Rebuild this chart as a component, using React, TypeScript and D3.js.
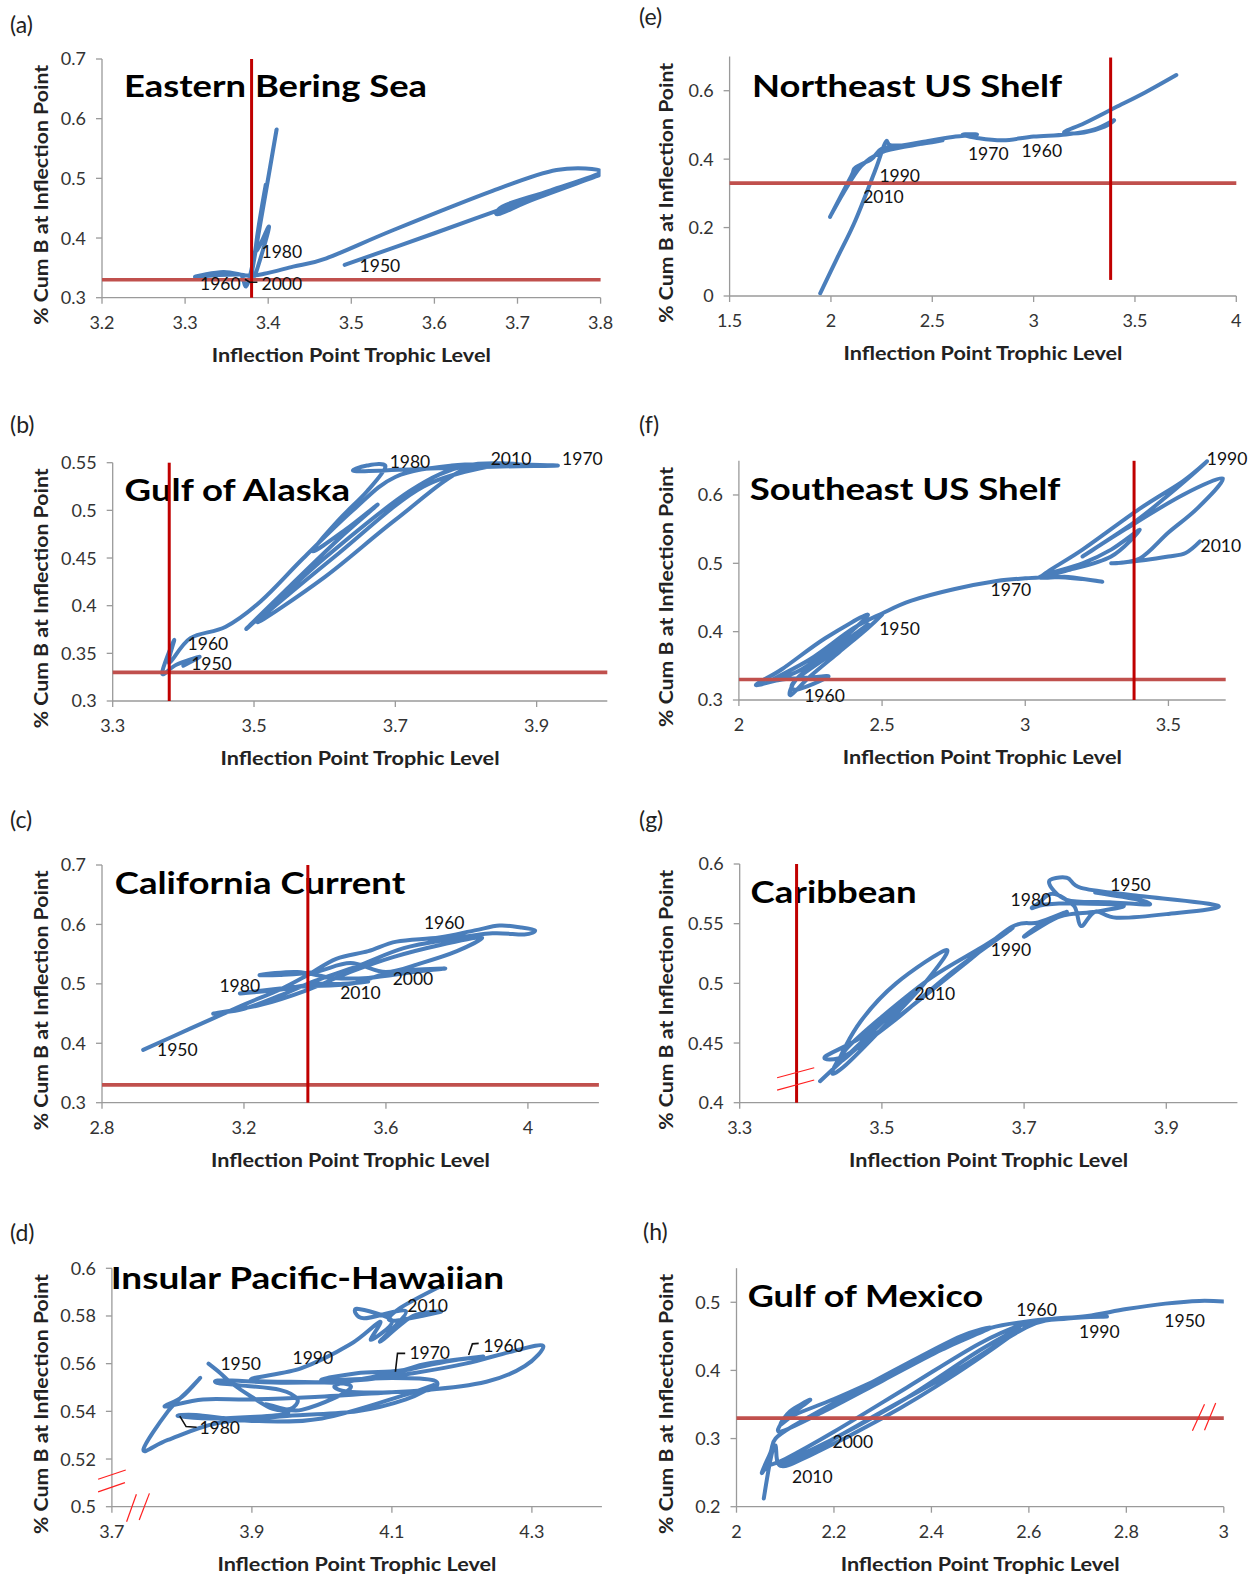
import * as d3 from "d3"

type Pt = [number, number]
type YearLabel = { text: string; x: number; y: number }

// reference levels drawn on every panel (trophic level / cum biomass)
const refTL = 3.38
const refB = 0.33

// (a) Eastern Bering Sea
const ebsPath: Pt[] = [
  [3.492, 0.355], [3.6, 0.408], [3.72, 0.468], [3.8, 0.506], [3.72, 0.465], [3.677, 0.44],
  [3.685, 0.455], [3.74, 0.48], [3.8, 0.511], [3.747, 0.514], [3.67, 0.479], [3.55, 0.413],
  [3.47, 0.366], [3.43, 0.352], [3.395, 0.34], [3.375, 0.337], [3.346, 0.343], [3.312, 0.335],
  [3.34, 0.338], [3.366, 0.339], [3.378, 0.336], [3.41, 0.581], [3.39, 0.42], [3.38, 0.34],
  [3.397, 0.489], [3.385, 0.38], [3.401, 0.419], [3.386, 0.345], [3.38, 0.33],
]
const ebsYears: YearLabel[] = [
  { text: "1980", x: 3.392, y: 0.366 },
  { text: "1950", x: 3.51, y: 0.3436 },
  { text: "1960", x: 3.318, y: 0.313 },
  { text: "2000", x: 3.392, y: 0.313 },
]
const ebsLeaders: Pt[][] = [[[3.372, 0.331], [3.378, 0.326], [3.387, 0.326]]]

// (e) Northeast US Shelf
const neusPath: Pt[] = [
  [3.704, 0.646], [3.55, 0.595], [3.4, 0.55], [3.25, 0.505], [3.15, 0.478], [3.25, 0.478],
  [3.35, 0.495], [3.396, 0.514], [3.3, 0.487], [3.16, 0.472], [3.0, 0.466], [2.85, 0.455],
  [2.72, 0.462], [2.65, 0.472], [2.72, 0.472], [2.6, 0.465], [2.45, 0.45], [2.35, 0.44],
  [2.25, 0.43], [2.2, 0.4], [2.12, 0.375], [2.1, 0.35], [1.996, 0.232], [2.06, 0.3],
  [2.15, 0.38], [2.25, 0.42], [2.4, 0.44], [2.55, 0.455], [2.45, 0.445], [2.3, 0.44],
  [2.27, 0.45], [2.22, 0.37], [2.12, 0.22], [2.03, 0.11], [1.947, 0.008],
]
const neusYears: YearLabel[] = [
  { text: "1970", x: 2.676, y: 0.397 },
  { text: "1960", x: 2.94, y: 0.405 },
  { text: "1990", x: 2.239, y: 0.334 },
  { text: "2010", x: 2.159, y: 0.273 },
]

// (b) Gulf of Alaska
const goaPath: Pt[] = [
  [3.4, 0.337], [3.423, 0.3465], [3.39, 0.338], [3.37, 0.329], [3.387, 0.364], [3.38, 0.34],
  [3.41, 0.366], [3.46, 0.378], [3.51, 0.405], [3.57, 0.45], [3.64, 0.5], [3.7, 0.535],
  [3.78, 0.547], [3.86, 0.548], [3.93, 0.547], [3.85, 0.546], [3.75, 0.544], [3.645, 0.541],
  [3.66, 0.547], [3.686, 0.546], [3.66, 0.52], [3.62, 0.49], [3.583, 0.457], [3.63, 0.48],
  [3.675, 0.506], [3.62, 0.47], [3.55, 0.42], [3.49, 0.376], [3.6, 0.45], [3.72, 0.52],
  [3.8, 0.547], [3.88, 0.548], [3.8, 0.544], [3.7, 0.49], [3.6, 0.43], [3.505, 0.383],
  [3.62, 0.455], [3.74, 0.525], [3.85, 0.548],
]
const goaYears: YearLabel[] = [
  { text: "1980", x: 3.692, y: 0.544 },
  { text: "2010", x: 3.835, y: 0.548 },
  { text: "1970", x: 3.936, y: 0.548 },
  { text: "1960", x: 3.406, y: 0.354 },
  { text: "1950", x: 3.411, y: 0.333 },
]

// (f) Southeast US Shelf
const seusPath: Pt[] = [
  [2.5, 0.425], [2.45, 0.405], [2.35, 0.37], [2.25, 0.335], [2.18, 0.307], [2.2, 0.33],
  [2.3, 0.365], [2.4, 0.395], [2.45, 0.41], [2.35, 0.375], [2.2, 0.33], [2.2, 0.315],
  [2.312, 0.334], [2.25, 0.333], [2.15, 0.33], [2.059, 0.322], [2.15, 0.345], [2.3, 0.39],
  [2.45, 0.425], [2.35, 0.385], [2.22, 0.345], [2.12, 0.33], [2.25, 0.36], [2.4, 0.405],
  [2.502, 0.427], [2.6, 0.445], [2.75, 0.462], [2.9, 0.474], [3.0, 0.478], [3.1, 0.48],
  [3.2, 0.477], [3.268, 0.473], [3.15, 0.48], [3.05, 0.48], [3.2, 0.5], [3.3, 0.52],
  [3.4, 0.549], [3.3, 0.51], [3.15, 0.49], [3.06, 0.482], [3.2, 0.52], [3.4, 0.58],
  [3.55, 0.62], [3.634, 0.649], [3.5, 0.6], [3.38, 0.56], [3.2, 0.51], [3.35, 0.55],
  [3.55, 0.6], [3.69, 0.624], [3.6, 0.58], [3.5, 0.545], [3.4, 0.507], [3.3, 0.5],
  [3.42, 0.505], [3.5, 0.51], [3.56, 0.515], [3.61, 0.532],
]
const seusYears: YearLabel[] = [
  { text: "1990", x: 3.634, y: 0.644 },
  { text: "2010", x: 3.612, y: 0.516 },
  { text: "1970", x: 2.879, y: 0.452 },
  { text: "1950", x: 2.49, y: 0.395 },
  { text: "1960", x: 2.228, y: 0.2976 },
]

// (c) California Current
const ccPath: Pt[] = [
  [2.916, 0.389], [3.05, 0.425], [3.2, 0.465], [3.3, 0.49], [3.38, 0.515], [3.46, 0.542],
  [3.55, 0.555], [3.63, 0.571], [3.75, 0.578], [3.85, 0.59], [3.92, 0.598], [3.98, 0.595],
  [4.02, 0.59], [3.99, 0.583], [3.9, 0.585], [3.78, 0.575], [3.65, 0.56], [3.52, 0.53],
  [3.4, 0.505], [3.3, 0.48], [3.2, 0.458], [3.114, 0.45], [3.25, 0.465], [3.38, 0.49],
  [3.5, 0.52], [3.62, 0.545], [3.75, 0.565], [3.87, 0.578], [3.8, 0.555], [3.7, 0.535],
  [3.6, 0.52], [3.5, 0.535], [3.4, 0.52], [3.3, 0.515], [3.245, 0.515], [3.35, 0.52],
  [3.45, 0.51], [3.55, 0.51], [3.68, 0.52], [3.766, 0.526], [3.62, 0.52], [3.5, 0.5],
  [3.35, 0.495], [3.189, 0.484], [3.3, 0.49], [3.4, 0.5], [3.48, 0.5], [3.55, 0.504],
]
const ccYears: YearLabel[] = [
  { text: "1960", x: 3.707, y: 0.593 },
  { text: "1980", x: 3.131, y: 0.4857 },
  { text: "2000", x: 3.619, y: 0.498 },
  { text: "2010", x: 3.471, y: 0.4745 },
  { text: "1950", x: 2.955, y: 0.379 },
]

// (g) Caribbean
const carPath: Pt[] = [
  [3.8, 0.576], [3.86, 0.57], [3.875, 0.566], [3.82, 0.568], [3.76, 0.57], [3.735, 0.585],
  [3.76, 0.5885], [3.78, 0.58], [3.85, 0.574], [3.973, 0.565], [3.9, 0.558], [3.83, 0.555],
  [3.8, 0.56], [3.78, 0.548], [3.77, 0.565], [3.74, 0.575], [3.72, 0.567], [3.711, 0.563],
  [3.73, 0.566], [3.78, 0.567], [3.84, 0.565], [3.8, 0.56], [3.75, 0.556], [3.7, 0.539],
  [3.73, 0.552], [3.76, 0.56], [3.72, 0.551], [3.683, 0.5475], [3.62, 0.518], [3.54, 0.48],
  [3.47, 0.448], [3.44, 0.435], [3.47, 0.468], [3.52, 0.5], [3.591, 0.528], [3.56, 0.5],
  [3.5, 0.462], [3.45, 0.432], [3.43, 0.425], [3.45, 0.445], [3.5, 0.472], [3.57, 0.505],
  [3.64, 0.53], [3.683, 0.546], [3.6, 0.51], [3.52, 0.47], [3.45, 0.44], [3.42, 0.4385],
  [3.48, 0.458], [3.54, 0.49], [3.47, 0.45], [3.413, 0.418],
]
const carYears: YearLabel[] = [
  { text: "1950", x: 3.821, y: 0.5774 },
  { text: "1980", x: 3.681, y: 0.565 },
  { text: "1990", x: 3.653, y: 0.523 },
  { text: "2010", x: 3.546, y: 0.486 },
]
const carBreaks: Pt[][] = [
  [[3.3526, 0.4209], [3.4048, 0.4293]],
  [[3.3526, 0.4106], [3.4048, 0.419]],
]

// (d) Insular Pacific-Hawaiian
const iphPath: Pt[] = [
  [3.838, 0.56], [3.855, 0.556], [3.87, 0.552], [3.9, 0.546], [3.93, 0.541], [3.955, 0.541],
  [3.965, 0.545], [3.94, 0.549], [3.88, 0.551], [3.85, 0.552], [3.86, 0.553], [3.95, 0.552],
  [4.05, 0.553], [4.13, 0.556], [4.205, 0.56], [4.27, 0.565], [4.316, 0.5675], [4.29, 0.559],
  [4.235, 0.5524], [4.15, 0.549], [4.05, 0.548], [4.02, 0.551], [4.1, 0.556], [4.18, 0.561],
  [4.23, 0.563], [4.15, 0.56], [4.11, 0.557], [4.05, 0.556], [4.0, 0.553], [4.1, 0.554],
  [4.16, 0.553], [4.155, 0.549], [4.1, 0.548], [3.99, 0.546], [3.9, 0.545], [3.83, 0.545],
  [3.776, 0.542], [3.8, 0.546], [3.826, 0.554], [3.81, 0.549], [3.78, 0.54], [3.745, 0.5238],
  [3.78, 0.528], [3.85, 0.535], [3.95, 0.538], [4.05, 0.54], [4.12, 0.545], [4.16, 0.551],
  [4.12, 0.547], [4.0, 0.537], [3.9, 0.536], [3.82, 0.5385], [3.795, 0.538], [3.85, 0.537],
  [3.95, 0.539], [3.92, 0.543], [3.971, 0.5406], [4.04, 0.551], [3.9, 0.553], [3.97, 0.558],
  [4.04, 0.568], [4.083, 0.5776], [4.07, 0.57], [4.1, 0.578], [4.05, 0.583], [4.06, 0.579],
  [4.12, 0.582], [4.083, 0.5692], [4.13, 0.58], [4.17, 0.5818], [4.1, 0.578], [4.11, 0.583],
  [4.173, 0.593],
]
const iphYears: YearLabel[] = [
  { text: "2010", x: 4.122, y: 0.5815 },
  { text: "1960", x: 4.2305, y: 0.565 },
  { text: "1970", x: 4.125, y: 0.5618 },
  { text: "1990", x: 3.958, y: 0.5597 },
  { text: "1950", x: 3.855, y: 0.5573 },
  { text: "1980", x: 3.825, y: 0.5303 },
]
const iphLeaders: Pt[][] = [
  [[3.797, 0.538], [3.806, 0.5336], [3.821, 0.5333]],
  [[4.105, 0.5566], [4.108, 0.5643], [4.119, 0.5643]],
  [[4.2096, 0.5636], [4.215, 0.5683], [4.224, 0.5685]],
]
const iphBreaks: Pt[][] = [
  [[3.6803, 0.5115], [3.7198, 0.5154]],
  [[3.6803, 0.5062], [3.7186, 0.5101]],
  [[3.721, 0.4937], [3.735, 0.5052]],
  [[3.739, 0.4944], [3.7536, 0.5056]],
]

// (h) Gulf of Mexico
const gomPath: Pt[] = [
  [3.0, 0.501], [2.95, 0.502], [2.88, 0.498], [2.8, 0.49], [2.72, 0.48], [2.65, 0.476],
  [2.6, 0.472], [2.52, 0.462], [2.42, 0.43], [2.3, 0.39], [2.2, 0.358], [2.12, 0.335],
  [2.09, 0.32], [2.11, 0.34], [2.151, 0.357], [2.13, 0.345], [2.1, 0.33], [2.09, 0.31],
  [2.18, 0.34], [2.3, 0.385], [2.42, 0.43], [2.52, 0.462], [2.46, 0.45], [2.35, 0.41],
  [2.22, 0.36], [2.12, 0.32], [2.08, 0.3], [2.07, 0.28], [2.052, 0.25], [2.065, 0.26],
  [2.1, 0.27], [2.2, 0.31], [2.35, 0.375], [2.5, 0.44], [2.6, 0.47], [2.7, 0.478],
  [2.76, 0.479], [2.68, 0.476], [2.6, 0.465], [2.45, 0.4], [2.3, 0.34], [2.15, 0.28],
  [2.09, 0.262], [2.2, 0.3], [2.35, 0.36], [2.5, 0.43], [2.58, 0.46], [2.45, 0.395],
  [2.3, 0.33], [2.15, 0.275], [2.09, 0.26], [2.08, 0.29], [2.07, 0.27], [2.056, 0.212],
]
const gomYears: YearLabel[] = [
  { text: "1960", x: 2.574, y: 0.48 },
  { text: "1990", x: 2.703, y: 0.448 },
  { text: "1950", x: 2.878, y: 0.464 },
  { text: "2000", x: 2.197, y: 0.2856 },
  { text: "2010", x: 2.114, y: 0.235 },
]
const gomBreaks: Pt[][] = [
  [[2.9356, 0.3113], [2.9604, 0.3504]],
  [[2.9604, 0.3123], [2.9834, 0.3523]],
]

const FONT = "Lato, 'Open Sans', sans-serif"
const BLUE = "#4a7ebb"

interface Panel {
  tag: string
  tagX: number
  tagY: number
  left: number
  title: string
  titleX: number
  titleY: number
  titleW: number
  plot: { x0: number; x1: number; y0: number; y1: number }
  xDomain: [number, number]
  xTicks: number[]
  yDomain: [number, number]
  yTicks: number[]
  vLine?: [number, number] | null
  hLine?: boolean
  path: Pt[]
  years: YearLabel[]
  leaders?: Pt[][]
  breaks?: Pt[][]
}

const panels: Panel[] = [
  {
    tag: "(a)", tagX: 10, tagY: 33, left: 0,
    title: "Eastern Bering Sea", titleX: 124, titleY: 97, titleW: 303,
    plot: { x0: 102, x1: 600.6, y0: 59, y1: 297.7 },
    xDomain: [3.2, 3.8], xTicks: [3.2, 3.3, 3.4, 3.5, 3.6, 3.7, 3.8],
    yDomain: [0.3, 0.7], yTicks: [0.3, 0.4, 0.5, 0.6, 0.7],
    vLine: [0.3, 0.7], hLine: true, path: ebsPath, years: ebsYears, leaders: ebsLeaders,
  },
  {
    tag: "(e)", tagX: 639, tagY: 25, left: 625,
    title: "Northeast US Shelf", titleX: 752, titleY: 96.7, titleW: 310,
    plot: { x0: 729.6, x1: 1236.3, y0: 56.5, y1: 296 },
    xDomain: [1.5, 4], xTicks: [1.5, 2, 2.5, 3, 3.5, 4],
    yDomain: [0, 0.7], yTicks: [0, 0.2, 0.4, 0.6],
    vLine: [0.047, 0.697], hLine: true, path: neusPath, years: neusYears,
  },
  {
    tag: "(b)", tagX: 10, tagY: 433, left: 0,
    title: "Gulf of Alaska", titleX: 124.6, titleY: 501, titleW: 225.4,
    plot: { x0: 112.7, x1: 607.3, y0: 462.7, y1: 701 },
    xDomain: [3.3, 4.0], xTicks: [3.3, 3.5, 3.7, 3.9],
    yDomain: [0.3, 0.55], yTicks: [0.3, 0.35, 0.4, 0.45, 0.5, 0.55],
    vLine: [0.3, 0.55], hLine: true, path: goaPath, years: goaYears,
  },
  {
    tag: "(f)", tagX: 639, tagY: 433, left: 625,
    title: "Southeast US Shelf", titleX: 749.7, titleY: 500, titleW: 310.7,
    plot: { x0: 738.9, x1: 1225.7, y0: 460.8, y1: 700 },
    xDomain: [2, 3.7], xTicks: [2, 2.5, 3, 3.5],
    yDomain: [0.3, 0.65], yTicks: [0.3, 0.4, 0.5, 0.6],
    vLine: [0.3, 0.65], hLine: true, path: seusPath, years: seusYears,
  },
  {
    tag: "(c)", tagX: 10, tagY: 828, left: 0,
    title: "California Current", titleX: 114.7, titleY: 894, titleW: 290.6,
    plot: { x0: 102, x1: 598.9, y0: 865, y1: 1102.7 },
    xDomain: [2.8, 4.2], xTicks: [2.8, 3.2, 3.6, 4],
    yDomain: [0.3, 0.7], yTicks: [0.3, 0.4, 0.5, 0.6, 0.7],
    vLine: [0.3, 0.7], hLine: true, path: ccPath, years: ccYears,
  },
  {
    tag: "(g)", tagX: 639, tagY: 828, left: 625,
    title: "Caribbean", titleX: 750.6, titleY: 903.3, titleW: 166,
    plot: { x0: 739.7, x1: 1237.4, y0: 864, y1: 1102.7 },
    xDomain: [3.3, 4.0], xTicks: [3.3, 3.5, 3.7, 3.9],
    yDomain: [0.4, 0.6], yTicks: [0.4, 0.45, 0.5, 0.55, 0.6],
    vLine: [0.4, 0.6], hLine: false, path: carPath, years: carYears, breaks: carBreaks,
  },
  {
    tag: "(d)", tagX: 10, tagY: 1241, left: 0,
    title: "Insular Pacific-Hawaiian", titleX: 110.7, titleY: 1289.3, titleW: 393.5,
    plot: { x0: 111.9, x1: 601.9, y0: 1268.3, y1: 1506.7 },
    xDomain: [3.7, 4.4], xTicks: [3.7, 3.9, 4.1, 4.3],
    yDomain: [0.5, 0.6], yTicks: [0.5, 0.52, 0.54, 0.56, 0.58, 0.6],
    vLine: null, hLine: false, path: iphPath, years: iphYears, leaders: iphLeaders, breaks: iphBreaks,
  },
  {
    tag: "(h)", tagX: 643, tagY: 1240, left: 625,
    title: "Gulf of Mexico", titleX: 747.7, titleY: 1307.3, titleW: 235.5,
    plot: { x0: 736.5, x1: 1223.8, y0: 1268.2, y1: 1506.7 },
    xDomain: [2, 3], xTicks: [2, 2.2, 2.4, 2.6, 2.8, 3],
    yDomain: [0.2, 0.55], yTicks: [0.2, 0.3, 0.4, 0.5],
    vLine: null, hLine: true, path: gomPath, years: gomYears, breaks: gomBreaks,
  },
]

const fmt = (v: number) => String(+v.toFixed(2))

function ChartPanel({ p, idx }: { p: Panel; idx: number }) {
  const { x0, x1, y0, y1 } = p.plot
  const x = d3.scaleLinear().domain(p.xDomain).range([x0, x1])
  const y = d3.scaleLinear().domain(p.yDomain).range([y1, y0])
  // Excel-style smoothing (uniform Catmull-Rom)
  const curve = d3
    .line<Pt>()
    .x((d) => x(d[0]))
    .y((d) => y(d[1]))
    .curve(d3.curveCatmullRom.alpha(0))
  const straight = d3
    .line<Pt>()
    .x((d) => x(d[0]))
    .y((d) => y(d[1]))
  const clipId = `clip-${idx}`
  const midX = (x0 + x1) / 2
  const midY = (y0 + y1) / 2

  return (
    <g>
      <defs>
        <clipPath id={clipId}>
          <rect x={x0} y={y0 - 4} width={x1 - x0} height={y1 - y0 + 4} />
        </clipPath>
      </defs>

      {/* panel tag */}
      <text x={p.tagX} y={p.tagY} fontSize={23} fontFamily={FONT} fill="#222">
        {p.tag}
      </text>

      {/* axes */}
      <line x1={x0} x2={x0} y1={y0} y2={y1} stroke="#9a9a9a" strokeWidth={1.3} />
      <line x1={x0} x2={x1} y1={y1} y2={y1} stroke="#9a9a9a" strokeWidth={1.3} />
      {p.xTicks.map((t) => (
        <g key={"x" + t}>
          <line x1={x(t)} x2={x(t)} y1={y1} y2={y1 + 6} stroke="#9a9a9a" strokeWidth={1.3} />
          <text x={x(t)} y={y1 + 31} textAnchor="middle" fontSize={18} fontFamily={FONT} fill="#333">
            {fmt(t)}
          </text>
        </g>
      ))}
      {p.yTicks.map((t) => (
        <g key={"y" + t}>
          <line x1={x0 - 6} x2={x0} y1={y(t)} y2={y(t)} stroke="#9a9a9a" strokeWidth={1.3} />
          <text x={x0 - 16} y={y(t)} dy="0.36em" textAnchor="end" fontSize={18} fontFamily={FONT} fill="#333">
            {fmt(t)}
          </text>
        </g>
      ))}

      {/* axis titles */}
      <text
        x={midX}
        y={y1 + 64}
        textAnchor="middle"
        fontSize={18.5}
        fontWeight={700}
        fontFamily={FONT}
        textLength={279}
        lengthAdjust="spacingAndGlyphs"
        fill="#222"
      >
        Inflection Point Trophic Level
      </text>
      <text
        transform={`translate(${p.left + 41.5},${midY + 16.5}) rotate(-90)`}
        textAnchor="middle"
        dy="0.35em"
        fontSize={18.5}
        fontWeight={700}
        fontFamily={FONT}
        textLength={260}
        lengthAdjust="spacingAndGlyphs"
        fill="#222"
      >
        % Cum B at Inflection Point
      </text>

      {/* trajectory */}
      <g clipPath={`url(#${clipId})`}>
        <path
          d={curve(p.path) || ""}
          fill="none"
          stroke={BLUE}
          strokeWidth={4}
          strokeLinejoin="round"
          strokeLinecap="round"
        />
      </g>

      {/* region title */}
      <text
        x={p.titleX}
        y={p.titleY}
        fontSize={31}
        fontWeight={700}
        fontFamily={FONT}
        textLength={p.titleW}
        lengthAdjust="spacingAndGlyphs"
        fill="#000"
      >
        {p.title}
      </text>

      {/* reference lines */}
      {p.hLine && (
        <line x1={x0} x2={x1} y1={y(refB)} y2={y(refB)} stroke="#c0504d" strokeWidth={3.6} />
      )}
      {p.vLine && (
        <line
          x1={x(refTL)}
          x2={x(refTL)}
          y1={y(p.vLine[0])}
          y2={y(p.vLine[1])}
          stroke="#c00000"
          strokeWidth={3}
        />
      )}
      {(p.breaks || []).map((b, i) => (
        <path key={"b" + i} d={straight(b) || ""} stroke="#ff2020" strokeWidth={1.2} fill="none" />
      ))}

      {/* year labels */}
      {(p.leaders || []).map((l, i) => (
        <path key={"l" + i} d={straight(l) || ""} stroke="#111" strokeWidth={1.6} fill="none" />
      ))}
      {p.years.map((yl) => (
        <text key={yl.text} x={x(yl.x)} y={y(yl.y)} fontSize={17.5} fontFamily={FONT} fill="#111">
          {yl.text}
        </text>
      ))}
    </g>
  )
}

export default function App() {
  return (
    <div style={{ position: "absolute", left: 0, top: 0 }}>
      <svg width={1256} height={1577} style={{ display: "block", background: "#fff" }}>
        {panels.map((p, i) => (
          <ChartPanel key={p.tag} p={p} idx={i} />
        ))}
      </svg>
    </div>
  )
}
